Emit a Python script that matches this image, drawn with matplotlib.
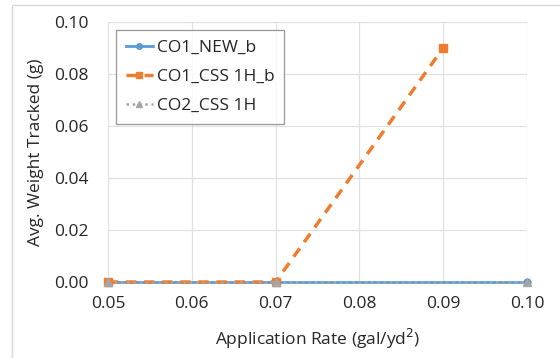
import matplotlib
matplotlib.use("Agg")
import matplotlib.pyplot as plt
from matplotlib.patches import Rectangle

# data
rate_new = [0.05, 0.07, 0.10]
weight_new = [0.0, 0.0, 0.0]
rate_css = [0.05, 0.07, 0.09]
weight_css = [0.0, 0.0, 0.09]
rate_co2 = [0.05, 0.07, 0.10]
weight_co2 = [0.0, 0.0, 0.0]
x_ticks = [0.05, 0.06, 0.07, 0.08, 0.09, 0.10]
y_ticks = [0.00, 0.02, 0.04, 0.06, 0.08, 0.10]

plt.rcParams['font.family'] = ['Open Sans', 'DejaVu Sans']

fig = plt.figure(figsize=(5.6, 3.58), dpi=100)
# outer chart frame (Excel style)
fig.patches.append(Rectangle((12 / 560, -0.1), 1.2, 1 - 5 / 358 + 0.1,
                             transform=fig.transFigure, fill=False,
                             edgecolor='#d9d9d9', linewidth=1.0))

ax = fig.add_axes([108 / 560, 1 - 282 / 358, (527 - 108) / 560, (282 - 22) / 358])

ax.plot(rate_new, weight_new, color='#5B9BD5', linewidth=2.0, marker='o',
        markersize=5, label='CO1_NEW_b', zorder=3, clip_on=False)
ax.plot(rate_css, weight_css, color='#ED7D31', linewidth=2.5, linestyle=(0, (3, 2.2)),
        marker='s', markersize=5.5, label='CO1_CSS 1H_b', zorder=4, clip_on=False)
ax.plot(rate_co2, weight_co2, color='#A5A5A5', linewidth=1.8, linestyle=(0, (1, 1.5)),
        marker='^', markersize=5.5, label='CO2_CSS 1H', zorder=5, clip_on=False)

ax.set_xlim(0.05, 0.10)
ax.set_ylim(0.0, 0.10)
ax.set_xticks(x_ticks)
ax.set_yticks(y_ticks)
ax.set_xticklabels([f"{v:.2f}" for v in x_ticks])
ax.set_yticklabels([f"{v:.2f}" for v in y_ticks])
ax.tick_params(axis='y', length=0, labelsize=12.5, colors='#262626', pad=14)
ax.tick_params(axis='x', length=0, labelsize=12.5, colors='#262626', pad=10)
ax.grid(True, color='#e0e0e0', linewidth=0.9)
ax.set_axisbelow(True)
for s in ax.spines.values():
    s.set_visible(False)

ax.set_xlabel('Application Rate (gal/yd$^2$)', fontsize=12.5, color='#262626', labelpad=11)
ax.set_ylabel('Avg. Weight Tracked (g)', fontsize=12.5, color='#262626', labelpad=7)

leg = ax.legend(loc='upper left', bbox_to_anchor=(0.019, 0.969), fontsize=12.5,
                frameon=True, fancybox=False, handlelength=1.6, borderpad=0.55,
                labelspacing=0.75, handletextpad=0.2, borderaxespad=0,
                markerscale=0.8)
leg.get_frame().set_edgecolor('#7f7f7f')
leg.get_frame().set_linewidth(0.9)
for t in leg.get_texts():
    t.set_color('#262626')

fig.savefig('out.png', dpi=100)
